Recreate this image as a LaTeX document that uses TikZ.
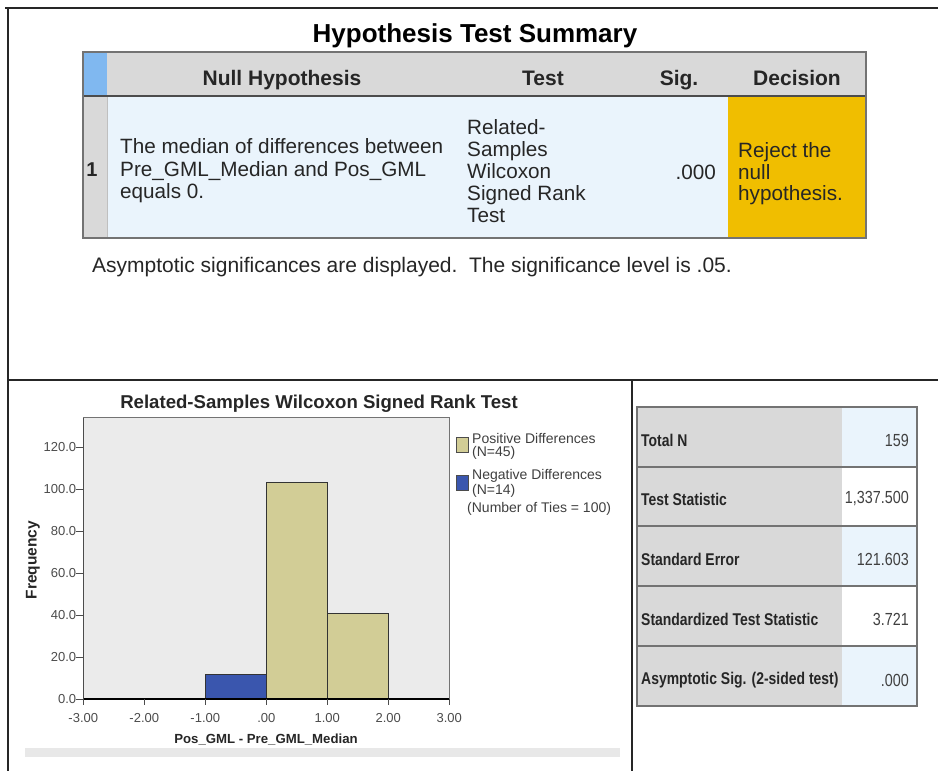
\documentclass[tikz,border=0pt]{standalone}
\usepackage{fontspec}
\setmainfont{Liberation Sans}
\newfontfamily\cond[FakeStretch=0.82]{Liberation Sans}
\begin{document}
\begin{tikzpicture}[x=1pt,y=-1pt,
  txt/.style={inner sep=0pt, text=black!85},
  hdr/.style={txt, anchor=base, font=\bfseries\fontsize{21}{24}\selectfont},
  body/.style={txt, font=\fontsize{20.7}{22.3}\selectfont, align=left},
  tick/.style={txt, font=\fontsize{13}{14}\selectfont, text=black!70},
  leg/.style={txt, font=\fontsize{14}{15}\selectfont, text=black!75, anchor=west},
  stat/.style={txt, font=\cond\bfseries\fontsize{17}{19}\selectfont, anchor=west},
  val/.style={txt, font=\cond\fontsize{17.5}{19}\selectfont, text=black!75, anchor=east},
  frame/.style={line width=1.4pt, black!85},
  tblline/.style={line width=1.6pt, black!55}]
\definecolor{hdrgray}{RGB}{217,217,217}
\definecolor{cellblue}{RGB}{234,244,252}
\definecolor{gold}{RGB}{240,190,0}
\definecolor{stripblue}{RGB}{128,184,240}
\definecolor{tan}{RGB}{210,205,150}
\definecolor{negblue}{RGB}{58,86,174}
\definecolor{plotbg}{RGB}{235,235,235}

\useasboundingbox (0,0) rectangle (938,771);
\fill[white] (0,0) rectangle (938,771);

% panel frame
\draw[frame] (5,8) -- (938,8);
\draw[frame] (8,8) -- (8,771);
\draw[frame] (8,380) -- (938,380);
\draw[frame] (632,380) -- (632,771);

% ---------- hypothesis summary ----------
\node[txt, anchor=base, text=black, font=\bfseries\fontsize{26}{28}\selectfont] (title) at (475,42) {Hypothesis Test Summary};

\fill[hdrgray] (83,52) rectangle (866,96);
\fill[stripblue] (83,52) rectangle (107,96);
\fill[hdrgray] (83,96) rectangle (107,238);
\fill[cellblue] (107,96) rectangle (728,238);
\fill[gold] (728,96) rectangle (866,238);
\draw[black!15, line width=0.8pt] (457,53) -- (457,95);
\draw[black!25, line width=0.8pt] (107,96) -- (107,238);
\draw[black!70, line width=1.8pt] (83,96) -- (866,96);
\draw[tblline] (83,52) rectangle (866,238);

\node[hdr] (hnull) at (282,85) {Null Hypothesis};
\node[hdr] (htest) at (543,85) {Test};
\node[hdr] (hsig) at (679,85) {Sig.};
\node[hdr] (hdec) at (797,85) {Decision};

\node[txt, font=\bfseries\fontsize{20}{22}\selectfont] (rownum) at (92,170) {1};
\node[body, anchor=west, font=\fontsize{20.7}{22.5}\selectfont] (nullh) at (120,171) {The median of differences between\\Pre\_GML\_Median and Pos\_GML\\equals 0.};
\node[body, anchor=west, font=\fontsize{20.7}{22.2}\selectfont] (testn) at (467,171) {Related-\\Samples\\Wilcoxon\\Signed Rank\\Test};
\node[body, anchor=east] (sig) at (716,172) {.000};
\node[body, anchor=west, font=\fontsize{20.7}{21.5}\selectfont] (dec) at (738,174) {Reject the\\null\\hypothesis.};

\node[txt, anchor=west, font=\fontsize{21}{23}\selectfont] (foot) at (92,267)
  {Asymptotic significances are displayed.\ \ The significance level is .05.};

% ---------- histogram ----------
\node[txt, font=\bfseries\fontsize{18.6}{20}\selectfont] (ctitle) at (319,404) {Related-Samples Wilcoxon Signed Rank Test};

\begin{scope}[shift={(266.3,699)}, x=61pt, y=2.1pt]
  \fill[plotbg] (-3,0) rectangle (3,134);
  \draw[black!55, line width=0.8pt] (-3,0) rectangle (3,134);
  \draw[black!80, line width=0.6pt, fill=negblue] (-1,0) rectangle (0,12);
  \draw[black!80, line width=0.6pt, fill=tan] (0,0) rectangle (1,103);
  \draw[black!80, line width=0.6pt, fill=tan] (1,0) rectangle (2,41);
  \draw[black, line width=2pt] (-3,0) -- (3,0);
  \draw[black!70, line width=0.8pt] (-3,0) -- (-3,134);
  \foreach \f in {0,20,...,120} {
    \draw[black!70, line width=0.8pt] (-3,\f) -- ++(-7pt,0) coordinate (yt\f);
    \node[tick, anchor=east] (yl\f) at (yt\f) {\f.0};
  }
  \foreach \v/\l in {-3/-3.00,-2/-2.00,-1/-1.00,0/.00,1/1.00,2/2.00,3/3.00} {
    \draw[black!70, line width=0.8pt] (\v,0) -- ++(0,-6pt) coordinate (xt\v);
    \node[tick, yshift=-19pt] (xl\v) at (\v,0) {\l};
  }
\end{scope}

\node[txt, rotate=90, font=\bfseries\fontsize{15.5}{18}\selectfont] (ylab) at (33,560) {Frequency};
\node[txt, font=\bfseries\fontsize{13.2}{15}\selectfont] (xlab) at (266,740) {Pos\_GML - Pre\_GML\_Median};
\fill[black!9] (25,748) rectangle (620,757);

% legend
\draw[black!70, line width=0.8pt, fill=tan] (456,437) rectangle (468,452);
\draw[black!70, line width=0.8pt, fill=negblue] (456,475) rectangle (468,490);
\node[leg] (legpos) at (472,438) {Positive Differences};
\node[leg] (legposn) at (472,453) {(N=45)};
\node[leg] (legneg) at (472,476) {Negative Differences};
\node[leg] (legnegn) at (472,491) {(N=14)};
\node[leg] (legties) at (467,509) {(Number of Ties = 100)};

% ---------- statistics table ----------
\fill[hdrgray] (637,407) rectangle (842,706);
\fill[cellblue] (842,407) rectangle (917,467);
\fill[white] (842,467) rectangle (917,526);
\fill[cellblue] (842,526) rectangle (917,586);
\fill[white] (842,586) rectangle (917,646);
\fill[cellblue] (842,646) rectangle (917,706);
\foreach \yy in {467,526,586,646} \draw[tblline] (637,\yy) -- (917,\yy);
\draw[tblline] (637,407) rectangle (917,706);

\node[stat] (s1) at (641,440) {Total N};
\node[stat] (s2) at (641,499) {Test Statistic};
\node[stat] (s3) at (641,559) {Standard Error};
\node[stat] (s4) at (641,619) {Standardized Test Statistic};
\node[stat] (s5) at (641,680) {Asymptotic Sig. (2-sided test)};
\node[val] (v1) at (909,440) {159};
\node[val] (v2) at (909,499) {1,337.500};
\node[val] (v3) at (909,559) {121.603};
\node[val] (v4) at (909,619) {3.721};
\node[val] (v5) at (909,680) {.000};
\end{tikzpicture}
\end{document}
